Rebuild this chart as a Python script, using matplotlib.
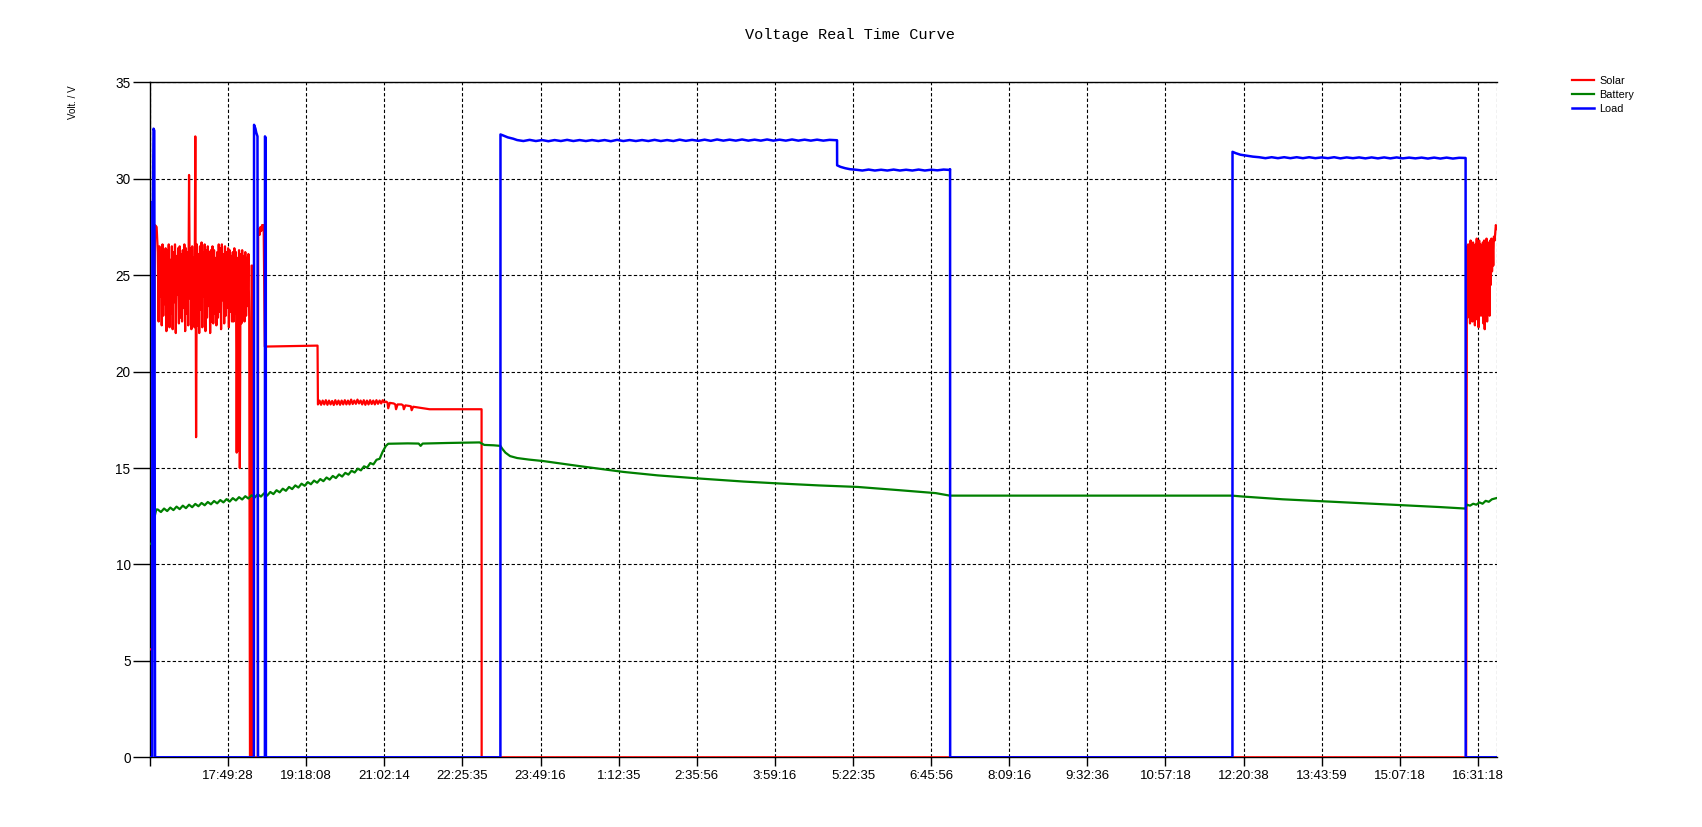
import numpy as np
import matplotlib
matplotlib.use("Agg")
import matplotlib.pyplot as plt

# ---------------- data ----------------
# x is the sample position; one tick step = 100 samples
tick_pos = list(range(0, 1701, 100))
tick_labels = ["", "17:49:28", "19:18:08", "21:02:14", "22:25:35", "23:49:16",
               "1:12:35", "2:35:56", "3:59:16", "5:22:35", "6:45:56", "8:09:16",
               "9:32:36", "10:57:18", "12:20:38", "13:43:59", "15:07:18", "16:31:18"]
x_end = 1724.5
y_ticks = [0, 5, 10, 15, 20, 25, 30, 35]

# Solar
solar_start_x = [0, 3, 6.4, 8.5]
solar_start_y = [5.6, 5.6, 27.6, 27.5]
solar_noise1 = [26.2, 22.6, 26.5, 23.9, 25.6, 22.4, 26.6, 22.9, 25.9, 23.5,
                26.4, 22.1, 26.3, 24.2, 26.6, 22.3, 25.8, 23.0, 26.5, 22.2,
                26.2, 23.6, 26.6, 22.0, 26.0, 24.0, 26.4, 22.5, 26.5, 22.8,
                26.1, 22.6, 26.3, 23.3, 26.6, 22.1, 26.4, 23.0, 26.2, 22.4,
                30.2, 23.8, 26.4, 22.2, 26.5, 22.9, 25.9, 22.3, 32.2, 16.6,
                26.6, 22.4, 26.1, 22.0, 26.5, 23.2, 26.7, 22.3, 26.2, 23.9,
                26.6, 22.1, 26.3, 22.8, 26.5, 23.4, 26.2, 22.0, 26.3, 22.6,
                26.5, 22.5, 26.3, 23.0, 25.9, 22.4, 26.2, 22.8, 26.6, 23.1,
                26.4, 22.2, 26.6, 23.7, 26.1, 22.5, 26.5, 22.9, 26.2, 23.3,
                26.4, 22.3, 26.3, 23.1, 26.0, 22.6, 26.2, 22.6, 26.4, 23.0,
                26.2, 15.8, 25.9, 15.9, 26.3, 15.0, 26.1, 22.5, 26.3, 23.2,
                26.0, 22.6, 26.2, 22.9, 25.9, 23.4, 26.1, 22.8]
solar_mid_x = [128, 129.5, 130, 131, 131.5, 138, 138.5, 139.5, 140.5, 141.5, 142.5,
               143.5, 144.5, 145.5, 147, 214.5]
solar_mid_y = [0, 0, 25.5, 25.5, 0, 0, 27.2, 27.4, 27.1, 27.5, 27.3,
               27.6, 27.4, 27.6, 21.3, 21.35]
solar_band = [18.3, 18.5, 18.28, 18.5, 18.3, 18.52, 18.28, 18.5, 18.3, 18.48,
              18.27, 18.52, 18.3, 18.5, 18.28, 18.5, 18.3, 18.52, 18.3, 18.5,
              18.3, 18.55, 18.32, 18.5, 18.33, 18.55, 18.35, 18.5, 18.3, 18.52,
              18.28, 18.5, 18.3, 18.52, 18.32, 18.5, 18.3, 18.52, 18.33, 18.5,
              18.35, 18.52, 18.4]
solar_tail_x = [302, 304, 305, 307, 312, 314, 315, 317, 322, 324, 325, 327, 332, 334,
                335, 337, 342, 350, 358, 367, 424.5, 424.6, 1685]
solar_tail_y = [18.45, 18.4, 18.1, 18.38, 18.35, 18.3, 18.05, 18.3, 18.3, 18.25, 18.05,
                18.25, 18.22, 18.2, 18.0, 18.18, 18.15, 18.1, 18.05, 18.05, 18.05, 0, 0]
solar_noise2 = [26.5, 22.8, 26.6, 23.4, 26.3, 22.5, 26.8, 23.9, 26.4, 22.6,
                26.7, 23.0, 26.2, 22.4, 26.6, 23.6, 26.9, 22.7, 26.5, 22.3,
                26.8, 23.2, 26.6, 22.9, 26.4, 23.5, 26.7, 22.5, 26.8, 22.2,
                26.5, 23.1, 26.9, 22.6, 26.6, 23.8, 26.7, 22.9, 26.8, 24.5,
                26.9, 25.2, 26.8, 25.5, 27.0]
solar_end_x = [1721.5, 1723, 1724.5]
solar_end_y = [26.8, 27.6, 27.4]

# Battery
bat_start_x = [0, 3, 6, 8]
bat_start_y = [11.07, 11.1, 12.5, 12.85]
bat_rise = [12.85, 12.72, 12.90, 12.77, 12.95, 12.82, 13.00, 12.87, 13.05, 12.92,
            13.10, 12.97, 13.14, 13.02, 13.19, 13.07, 13.24, 13.12, 13.29, 13.17,
            13.34, 13.22, 13.39, 13.26, 13.44, 13.32, 13.49, 13.37, 13.54, 13.42,
            13.59, 13.47, 13.64, 13.52, 13.69, 13.57, 13.76, 13.65, 13.85, 13.74,
            13.93, 13.82, 14.02, 13.91, 14.10, 13.99, 14.19, 14.08, 14.27, 14.16,
            14.35, 14.24, 14.43, 14.32, 14.51, 14.40, 14.59, 14.48, 14.67, 14.56,
            14.75, 14.66, 14.86, 14.77, 14.97, 14.88, 15.09, 15.02, 15.26, 15.19,
            15.43, 15.48, 15.86]
bat_rest_x = [302, 305, 330, 344, 346.5, 349, 380, 422, 428, 440, 448.6, 451, 455, 461,
              470, 485, 504, 550, 606, 650, 706, 760, 806, 856, 906, 960, 1006, 1024,
              1385, 1400, 1450, 1500, 1550, 1600, 1650, 1684, 1686, 1690, 1694, 1698,
              1702, 1706, 1710, 1714, 1718, 1724.5]
bat_rest_y = [16.15, 16.26, 16.28, 16.27, 16.15, 16.27, 16.3, 16.33, 16.2, 16.18, 16.15,
              16.0, 15.8, 15.62, 15.52, 15.44, 15.36, 15.1, 14.8, 14.62, 14.45, 14.3,
              14.2, 14.1, 14.02, 13.85, 13.7, 13.57, 13.57, 13.52, 13.38, 13.28, 13.18,
              13.08, 12.98, 12.9, 13.1, 13.05, 13.15, 13.1, 13.22, 13.15, 13.3, 13.25,
              13.38, 13.45]

# Load
load_a_x = [0, 2.9, 3.0, 3.8, 4.5, 5.5, 6.5, 133.0, 133.2, 135, 136, 137.6, 138.3,
            147.1, 147.2, 148.2, 148.4, 448.6, 448.7, 452, 458, 465]
load_a_y = [0, 0, 28.8, 28.8, 32.6, 32.5, 0, 0, 32.8, 32.6, 32.4, 32.2, 0,
            0, 32.2, 32.1, 0, 0, 32.3, 32.25, 32.15, 32.08]
load_ripple1 = [32.01, 31.96, 32.02, 31.96, 32.01, 31.95, 32.01, 31.96, 32.02, 31.96,
                32.01, 31.96, 32.01, 31.96, 32.01, 31.95, 32.02, 31.96, 32.01, 31.96,
                32.01, 31.96, 32.02, 31.96, 32.01, 31.96, 32.03, 31.97, 32.02, 31.97,
                32.03, 31.97, 32.04, 31.98, 32.03, 31.98, 32.04, 31.98, 32.03, 31.98,
                32.04, 31.98, 32.03, 31.98, 32.04, 31.98, 32.03, 31.98, 32.03, 31.98,
                32.02]
load_b_x = [879.6, 879.7, 884, 890, 896]
load_b_y = [32.0, 30.7, 30.62, 30.55, 30.5]
load_ripple2 = [30.47, 30.43, 30.48, 30.43, 30.47, 30.43, 30.48, 30.43, 30.47, 30.43,
                30.48, 30.43, 30.47, 30.44, 30.48, 30.46]
load_c_x = [1024.3, 1024.4, 1385.8, 1385.9, 1390, 1396, 1404, 1412]
load_c_y = [30.5, 0, 0, 31.4, 31.33, 31.25, 31.2, 31.15]
load_ripple3 = [31.12, 31.07, 31.12, 31.07, 31.12, 31.07, 31.12, 31.07, 31.12, 31.07,
                31.11, 31.07, 31.12, 31.06, 31.11, 31.07, 31.11, 31.06, 31.11, 31.06,
                31.11, 31.06, 31.11, 31.06, 31.10, 31.06, 31.10, 31.05, 31.10, 31.05,
                31.10, 31.05, 31.09]
load_end_x = [1684.3, 1684.4, 1724.5]
load_end_y = [31.08, 0, 0]

# ---------------- assemble series ----------------
solar_x = np.concatenate([solar_start_x, 10 + 1.0 * np.arange(len(solar_noise1)),
                          solar_mid_x, np.linspace(215, 300, len(solar_band)),
                          solar_tail_x, np.linspace(1686, 1720.5, len(solar_noise2)),
                          solar_end_x])
solar_y = np.concatenate([solar_start_y, solar_noise1, solar_mid_y, solar_band,
                          solar_tail_y, solar_noise2, solar_end_y])

bat_x = np.concatenate([bat_start_x, 10 + 4 * np.arange(len(bat_rise)), bat_rest_x])
bat_y = np.concatenate([bat_start_y, bat_rise, bat_rest_y])

load_x = np.concatenate([load_a_x, 470 + 8 * np.arange(len(load_ripple1)), load_b_x,
                         904 + 8 * np.arange(len(load_ripple2)), load_c_x,
                         1420 + 8 * np.arange(len(load_ripple3)), load_end_x])
load_y = np.concatenate([load_a_y, load_ripple1, load_b_y, load_ripple2, load_c_y,
                         load_ripple3, load_end_y])

# ---------------- figure ----------------
W, H = 1702, 827
fig = plt.figure(figsize=(W / 100, H / 100), dpi=100)
plt.rcParams['font.family'] = ['Liberation Sans', 'DejaVu Sans']

ax = fig.add_axes([150 / W, (H - 757.3) / H, (1497 - 150) / W, (757.3 - 82.4) / H])

l1, = ax.plot(solar_x, solar_y, color='#ff0000', lw=1.6, label='Solar', zorder=3)
l2, = ax.plot(bat_x, bat_y, color='#008000', lw=1.6, label='Battery', zorder=4)
l3, = ax.plot(load_x, load_y, color='#0000ff', lw=1.8, label='Load', zorder=5)

ax.set_xlim(0, x_end)
ax.set_ylim(0, 35)
ax.set_xticks(tick_pos)
ax.set_xticklabels(tick_labels)
ax.set_yticks(y_ticks)
ax.tick_params(axis='x', length=6.5, width=1, pad=3, labelsize=9.5, colors='black')
ax.tick_params(axis='y', length=12, width=1, pad=2, labelsize=9.8, colors='black')

ax.grid(True, color='black', linestyle=(0, (3, 2)), linewidth=0.8, zorder=1)
ax.set_axisbelow(True)
ax.spines['right'].set_visible(False)
ax.axvline(x_end, color='black', linestyle=(0, (3, 2)), linewidth=0.8, zorder=1)
for s in ['left', 'bottom', 'top']:
    ax.spines[s].set_linewidth(1.0)

fig.text(0.4994, 1 - 35 / H, 'Voltage Real Time Curve', family='Liberation Mono',
         fontsize=11, ha='center', va='center')
fig.text(73 / W, 1 - 102 / H, 'Volt. / V', rotation=90, fontsize=7,
         ha='center', va='center')

fig.legend(handles=[l1, l2, l3], loc='upper left',
           bbox_to_anchor=(1570 / W, 1 - 74 / H), frameon=False, fontsize=7.8,
           handlelength=2.0, handletextpad=0.5, labelspacing=0.36,
           borderpad=0.2, borderaxespad=0)

fig.savefig('out.png', dpi=100)
